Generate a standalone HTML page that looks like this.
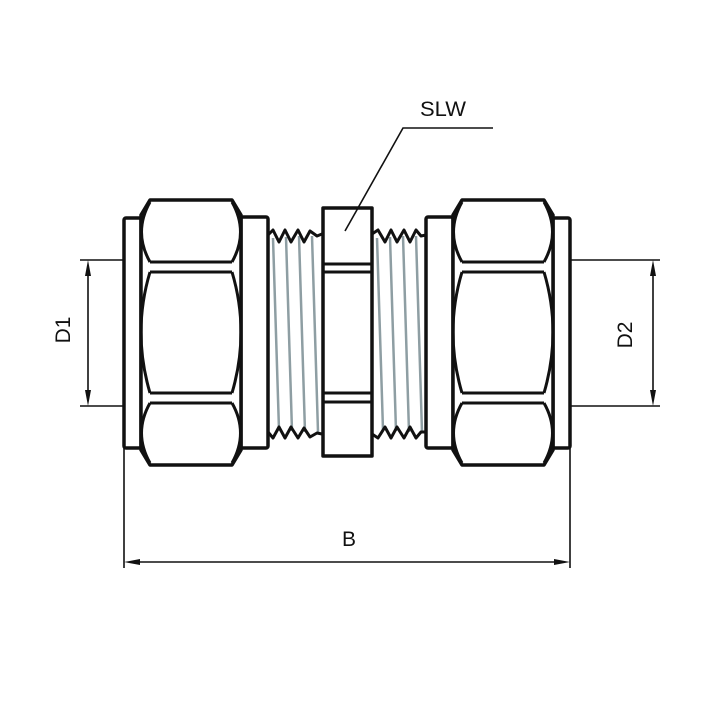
<!DOCTYPE html>
<html><head><style>html,body{margin:0;padding:0;background:#fff}svg{display:block}</style></head>
<body>
<svg width="709" height="709" viewBox="0 0 709 709" xmlns="http://www.w3.org/2000/svg" font-family="Liberation Sans, sans-serif">
<defs>
<g id="nut">
  <path d="M150,200 L232,200 L241,215 L241,450 L232,465 L150,465 L141,450 L141,215 Z" fill="#fff" stroke="#111" stroke-width="3.5" stroke-linejoin="round"/>
  <path d="M150,262 L232,262 M150,272 L232,272 M150,393 L232,393 M150,403 L232,403" stroke="#111" stroke-width="3"/>
  <path d="M150,262 Q133,232 150,202 M232,262 Q249,232 232,202 M150,272 Q132,332 150,393 M232,272 Q250,332 232,393 M150,403 Q133,433 150,463 M232,403 Q249,433 232,463" fill="none" stroke="#111" stroke-width="3"/>
</g>
</defs>
<g stroke="#111" stroke-width="1.6" fill="none">
  <path d="M80,260 H124 M80,406 H124 M88,266 V400"/>
  <path d="M570,260 H660 M570,406 H660 M653,266 V400"/>
  <path d="M124,448 V568 M570,448 V568 M130,562 H564"/>
  <path d="M345,231 L403,128 H493"/>
</g>
<g fill="#111">
  <path d="M88,260 L85,276 L91,276 Z M88,406 L85,390 L91,390 Z"/>
  <path d="M653,260 L650,276 L656,276 Z M653,406 L650,390 L656,390 Z"/>
  <path d="M124,562 L140,559 L140,565 Z M570,562 L554,559 L554,565 Z"/>
</g>
<g stroke="#8e9ea3" stroke-width="2.5">
  <path d="M273,238 L279,430 M286,237 L292,431 M299,236 L305,432 M312,236 L318,432"/>
  <path d="M377,238 L383,430 M390,237 L396,431 M403,236 L409,432 M416,236 L422,432"/>
</g>
<g stroke="#111" stroke-width="3" fill="none" stroke-linejoin="round">
  <path d="M268,235 L273,230 L279,242 L285,230 L291,242 L298,230 L304,242 L310,231 L317,236 L322,234"/>
  <path d="M268,432 L273,438 L279,427 L285,438 L291,427 L298,438 L304,428 L310,437 L317,433 L322,434"/>
  <path d="M372,234 L378,230 L385,242 L391,230 L397,242 L404,230 L410,242 L416,230 L421,236 L426,235"/>
  <path d="M372,434 L378,438 L385,427 L391,438 L397,427 L404,438 L410,427 L416,438 L421,432 L426,432"/>
</g>
<g stroke="#111" stroke-width="3.5" fill="#fff" stroke-linejoin="round">
  <rect x="124" y="218" width="17" height="230" rx="2"/>
  <rect x="241" y="217" width="27" height="231" rx="2"/>
  <rect x="426" y="217" width="27" height="231" rx="2"/>
  <rect x="553" y="218" width="17" height="230" rx="2"/>
  <rect x="323" y="208" width="49" height="248"/>
</g>
<path d="M323,264 H372 M323,272 H372 M323,393 H372 M323,402 H372" stroke="#111" stroke-width="3"/>
<path d="M345,231 L358,208" stroke="#111" stroke-width="1.6"/>
<use href="#nut"/>
<use href="#nut" transform="translate(312,0)"/>
<g fill="#111" font-size="21">
  <text x="443" y="116" text-anchor="middle" textLength="46" lengthAdjust="spacingAndGlyphs">SLW</text>
  <text x="349" y="546" text-anchor="middle">B</text>
  <text transform="translate(70,330) rotate(-90)" text-anchor="middle">D1</text>
  <text transform="translate(632,335) rotate(-90)" text-anchor="middle">D2</text>
</g>
</svg>
</body></html>
